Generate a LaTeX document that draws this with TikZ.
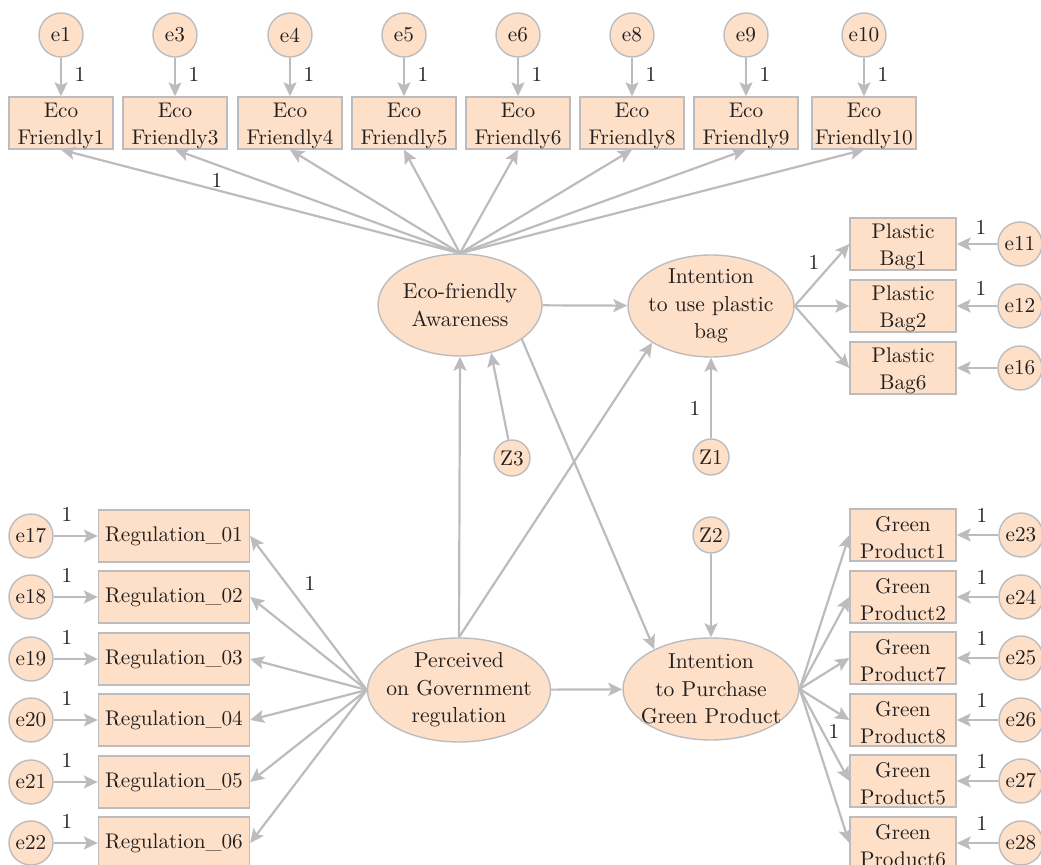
\documentclass[tikz,border=0pt]{standalone}
\usetikzlibrary{arrows.meta,shapes.geometric}

\definecolor{semfill}{RGB}{253,224,199}
\definecolor{semline}{RGB}{188,188,191}
\definecolor{semtext}{RGB}{35,31,32}
\newcommand{\toprow}{\rule{0pt}{10pt}}

\begin{document}
\begin{tikzpicture}[x=0.5pt,y=-0.5pt,
    font=\fontsize{10.6}{13.5}\selectfont, text=semtext,
    obs/.style={rectangle,draw=semline,fill=semfill,line width=0.7pt,align=center,minimum height=26pt,inner xsep=1.5pt,inner ysep=0pt},
    err/.style={circle,draw=semline,fill=semfill,line width=0.7pt,minimum size=22pt,inner sep=0pt},
    dist/.style={err,minimum size=18pt},
    lat/.style={ellipse,draw=semline,fill=semfill,line width=0.7pt,align=center,inner sep=-4pt,font=\fontsize{10.8}{13.7}\selectfont},
    link/.style={draw=semline,line width=1.1pt,-{Stealth[length=7pt,width=6.5pt,inset=1.5pt]}}
]
    \useasboundingbox (0,0) rectangle (1041,865);

    % Latent variables
    \node[lat,minimum width=82pt,minimum height=51pt] (eco) at (460,305) {Eco-friendly\\Awareness};
    \node[lat,minimum width=83pt,minimum height=51pt] (bag) at (711,306) {Intention\\to use plastic\\bag};
    \node[lat,minimum width=89pt,minimum height=52pt] (gov) at (459,690) {Perceived\\on Government\\regulation};
    \node[lat,minimum width=86pt,minimum height=51pt] (buy) at (711,689) {Intention\\to Purchase\\Green Product};

    % Disturbances
    \node[dist] (z3) at (512,458) {Z3};
    \node[dist] (z1) at (711,457) {Z1};
    \node[dist] (z2) at (711,535) {Z2};

    % Eco friendly items on top
    \foreach \n/\x in {1/61,3/175,4/290,5/404,6/518,8/632,9/746,10/864} {
        \node[err] (e\n) at (\x,35) {e\n};
        \node[obs,minimum width=52pt] (ef\n) at (\x,123) {\toprow Eco\\Friendly\n};
        \draw[link] (e\n) -- (ef\n);
        \node at (\x+19,74) {1};
        \draw[link] (eco.north) -- (ef\n.south);
    }
    \node at (217,180) {1};

    % Plastic bag items
    \foreach \n/\k/\y in {1/11/244,2/12/306,6/16/368} {
        \node[obs,minimum width=53pt] (pb\n) at (903,\y) {\toprow Plastic\\Bag\n};
        \node[err] (e\k) at (1020,\y) {e\k};
        \draw[link] (e\k) -- (pb\n);
        \draw[link] (bag.east) -- (pb\n.west);
    }
    \node at (981,227) {1};
    \node at (981,288) {1};
    \node at (814,262) {1};

    % Regulation items
    \foreach \n/\k/\y in {1/17/536,2/18/597,3/19/659,4/20/720,5/21/782,6/22/843} {
        \node[obs,minimum width=75.5pt] (rg\n) at (174,\y) {Regulation\_0\n};
        \node[err] (e\k) at (31,\y) {e\k};
        \draw[link] (e\k) -- (rg\n);
        \node at (67,\y-22) {1};
        \draw[link] (gov.west) -- (rg\n.east);
    }
    \node at (310,583) {1};

    % Green product items
    \foreach \n/\k/\y in {1/23/535,2/24/597,7/25/658,8/26/720,5/27/781,6/28/843} {
        \node[obs,minimum width=53pt] (gp\n) at (903,\y) {\toprow Green\\Product\n};
        \node[err] (e\k) at (1021,\y) {e\k};
        \draw[link] (e\k) -- (gp\n);
        \node at (982,\y-20) {1};
        \draw[link] (buy.east) -- (gp\n.west);
    }
    \node at (834,731) {1};

    % Structural paths
    \draw[link] (eco) -- (bag);
    \draw[link] (gov) -- (buy);
    \draw[link] (gov.north) -- (eco.south);
    \draw[link] (gov.north) -- (bag.-148);
    \draw[link] (eco.-29) -- (buy.145);
    \draw[link] (z3) -- (eco.-57);
    \draw[link] (z1) -- (bag);
    \node at (695,408) {1};
    \draw[link] (z2) -- (buy);
\end{tikzpicture}
\end{document}
